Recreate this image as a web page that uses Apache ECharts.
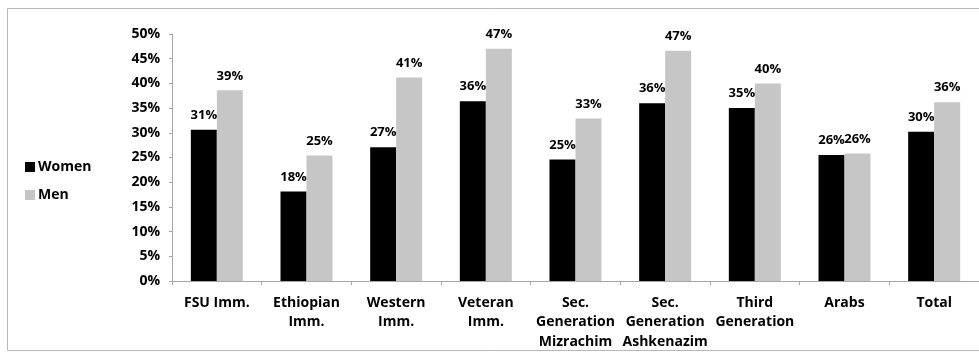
<!DOCTYPE html>
<html>
<head>
<meta charset="utf-8">
<script src="https://cdn.jsdelivr.net/npm/echarts@6/dist/echarts.min.js"></script>
<style>
  html, body { margin: 0; padding: 0; background: #fff; }
  #chart { width: 979px; height: 355px; }
</style>
</head>
<body>
<div id="chart"></div>
<script>
// groups along the x axis
var groups = ['FSU Imm.', 'Ethiopian\nImm.', 'Western\nImm.', 'Veteran\nImm.',
  'Sec.\nGeneration\nMizrachim', 'Sec.\nGeneration\nAshkenazim', 'Third\nGeneration', 'Arabs', 'Total'];
// shares in percent
var women = [30.6, 18.1, 27.1, 36.4, 24.6, 36.0, 35.0, 25.5, 30.2];
var men   = [38.6, 25.4, 41.2, 47.0, 32.9, 46.6, 40.0, 25.8, 36.2];

var font = '"Open Sans", "DejaVu Sans", sans-serif';

var myChart = echarts.init(document.getElementById('chart'), null, { renderer: 'canvas' });

var barLabel = {
  show: true,
  position: 'top',
  distance: 8,
  color: '#000',
  fontFamily: font,
  fontWeight: 'bold',
  fontSize: 13,
  formatter: function (p) { return Math.round(p.value) + '%'; }
};

var option = {
  animation: false,
  backgroundColor: '#fff',
  textStyle: { fontFamily: font },
  graphic: [{
    type: 'rect',
    shape: { x: 7.5, y: 8.5, width: 1000, height: 342 },
    style: { fill: 'none', stroke: '#b8b8b8', lineWidth: 1 },
    silent: true
  }],
  legend: {
    orient: 'vertical',
    left: 25,
    top: 160,
    padding: 0,
    itemWidth: 10,
    itemHeight: 10,
    itemGap: 14,
    icon: 'rect',
    textStyle: { fontFamily: font, fontWeight: 'bold', fontSize: 14, color: '#000', padding: [0, 0, 0, -2] },
    data: ['Women', 'Men']
  },
  grid: { left: 172, top: 34, width: 816, height: 247 },
  xAxis: {
    type: 'category',
    data: groups,
    axisLine: { lineStyle: { color: '#a6a6a6', width: 1 } },
    axisTick: { show: true, length: 4, lineStyle: { color: '#a6a6a6' } },
    axisLabel: {
      interval: 0,
      margin: 12,
      color: '#000',
      fontFamily: font,
      fontWeight: 'bold',
      fontSize: 14,
      lineHeight: 19.5
    }
  },
  yAxis: {
    type: 'value',
    min: 0,
    max: 50,
    interval: 5,
    axisLine: { show: true, lineStyle: { color: '#a6a6a6', width: 1 } },
    axisTick: { show: true, length: 3, lineStyle: { color: '#a6a6a6' } },
    splitLine: { show: false },
    axisLabel: {
      margin: 12,
      color: '#000',
      fontFamily: font,
      fontWeight: 'bold',
      fontSize: 14,
      formatter: '{value}%'
    }
  },
  series: [{
    name: 'Women',
    type: 'bar',
    data: women,
    barWidth: 26,
    barGap: '0%',
    itemStyle: { color: '#000' },
    label: barLabel
  }, {
    name: 'Men',
    type: 'bar',
    data: men,
    barWidth: 26,
    barGap: '0%',
    itemStyle: { color: '#c6c6c6' },
    label: barLabel
  }]
};

myChart.setOption(option);
</script>
</body>
</html>
